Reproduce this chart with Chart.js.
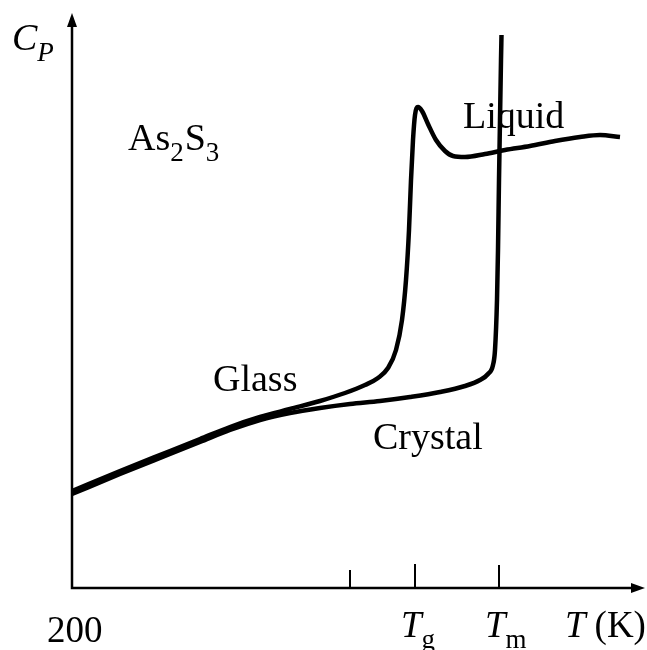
<!DOCTYPE html>
<html>
<head>
<meta charset="utf-8">
<style>
  html, body { margin: 0; padding: 0; background: #fff; }
  canvas { display: block; }
</style>
<script src="https://cdn.jsdelivr.net/npm/chart.js@4.4.1/dist/chart.umd.min.js"></script>
</head>
<body>
<canvas id="canvas" width="647" height="650"></canvas>
<script>
// heat capacity of As2S3 on heating, arbitrary Cp units
const glassT  = [200, 248, 298, 328, 358, 388, 418, 448, 473, 493, 506, 516, 524, 530, 534, 537, 539, 541, 543, 546, 550, 556, 564, 573, 581, 593, 613, 633, 658, 683, 708, 728, 748];
const glassCp = [ 97, 117, 137, 149, 161, 171, 179, 187, 195, 203, 210, 220, 238, 268, 308, 358, 408, 448, 473, 481, 477, 464, 448, 437, 432, 431, 434, 438, 442, 447, 451, 453, 451];

const crystalT  = [200, 248, 298, 328, 358, 388, 418, 448, 478, 508, 538, 568, 593, 608, 616, 621, 623, 625, 626, 627, 628, 629, 629.5];
const crystalCp = [ 94, 114, 134, 146, 158, 168, 175, 180, 184, 187, 191, 196, 202, 208, 214, 223, 238, 288, 338, 408, 468, 528, 553];

// marks on the temperature axis
const tickTemps   = [478, 543, 627];
const tickHeights = [18, 24, 23];
const tickLabels  = [null, ['T', 'g'], ['T', 'm']];

const xMin = 200, xMax = 773;
const yMin = 0, yMax = 575;

const serif = '"Liberation Serif", "DejaVu Serif", serif';

function toPoints(xs, ys) {
  return xs.map((x, i) => ({ x: x, y: ys[i] }));
}

// draws text made of [string, isSubscript, italic, extraGap] parts
function drawParts(ctx, x, y, parts, size) {
  parts.forEach(p => {
    const sub = p[1];
    const fs = sub ? Math.round(size * 0.72) : size;
    ctx.font = (p[2] ? 'italic ' : '') + fs + 'px ' + serif;
    const yy = sub ? y + size * 0.3 : y;
    ctx.fillText(p[0], x, yy);
    x += ctx.measureText(p[0]).width + (p[3] || 0);
  });
}

const axesPlugin = {
  id: 'axesPlugin',
  afterDraw(chart) {
    const ctx = chart.ctx;
    const xs = chart.scales.x, ys = chart.scales.y;
    const x0 = xs.getPixelForValue(xMin);
    const y0 = ys.getPixelForValue(yMin);
    const xEnd = xs.getPixelForValue(xMax);
    const yTop = ys.getPixelForValue(yMax);

    ctx.save();
    ctx.strokeStyle = '#000';
    ctx.fillStyle = '#000';
    ctx.lineWidth = 2.5;
    ctx.lineCap = 'butt';

    // axes
    ctx.beginPath();
    ctx.moveTo(x0, yTop + 10);
    ctx.lineTo(x0, y0);
    ctx.lineTo(xEnd - 10, y0);
    ctx.stroke();

    // arrow heads
    ctx.beginPath();
    ctx.moveTo(x0, yTop);
    ctx.lineTo(x0 - 5, yTop + 14);
    ctx.lineTo(x0 + 5, yTop + 14);
    ctx.closePath();
    ctx.fill();
    ctx.beginPath();
    ctx.moveTo(xEnd, y0);
    ctx.lineTo(xEnd - 14, y0 - 5);
    ctx.lineTo(xEnd - 14, y0 + 5);
    ctx.closePath();
    ctx.fill();

    // ticks and their labels
    ctx.lineWidth = 2;
    ctx.textBaseline = 'alphabetic';
    tickTemps.forEach((t, i) => {
      const px = xs.getPixelForValue(t);
      ctx.beginPath();
      ctx.moveTo(px, y0);
      ctx.lineTo(px, y0 - tickHeights[i]);
      ctx.stroke();
      const lab = tickLabels[i];
      if (lab) {
        drawParts(ctx, px - 14, 637, [[lab[0], false, true, 0], [lab[1], true, false]], 37);
      }
    });

    ctx.font = '37px ' + serif;
    ctx.fillText('200', 47, 642);
    drawParts(ctx, 565, 637, [['T', false, true, 9], ['(K)', false, false]], 37);

    // curve labels
    drawParts(ctx, 12, 50, [['C', false, true], ['P', true, true]], 38);
    drawParts(ctx, 128, 150, [['As', false, false], ['2', true, false, 1], ['S', false, false], ['3', true, false]], 38);
    ctx.font = '38px ' + serif;
    ctx.fillText('Liquid', 463, 128);
    ctx.fillText('Glass', 213, 391);
    ctx.fillText('Crystal', 373, 449);
    ctx.restore();
  }
};

new Chart(document.getElementById('canvas'), {
  type: 'line',
  data: {
    datasets: [
      {
        label: 'Glass',
        data: toPoints(glassT, glassCp),
        borderColor: '#000',
        borderWidth: 4.5,
        pointRadius: 0,
        cubicInterpolationMode: 'monotone',
        fill: false
      },
      {
        label: 'Crystal',
        data: toPoints(crystalT, crystalCp),
        borderColor: '#000',
        borderWidth: 4.5,
        pointRadius: 0,
        cubicInterpolationMode: 'monotone',
        fill: false
      }
    ]
  },
  options: {
    responsive: false,
    animation: false,
    clip: false,
    layout: { padding: { left: 72, right: 2, top: 13, bottom: 62 } },
    plugins: { legend: { display: false }, tooltip: { enabled: false } },
    scales: {
      x: { type: 'linear', min: xMin, max: xMax, display: false },
      y: { type: 'linear', min: yMin, max: yMax, display: false }
    }
  },
  plugins: [axesPlugin]
});
</script>
</body>
</html>
